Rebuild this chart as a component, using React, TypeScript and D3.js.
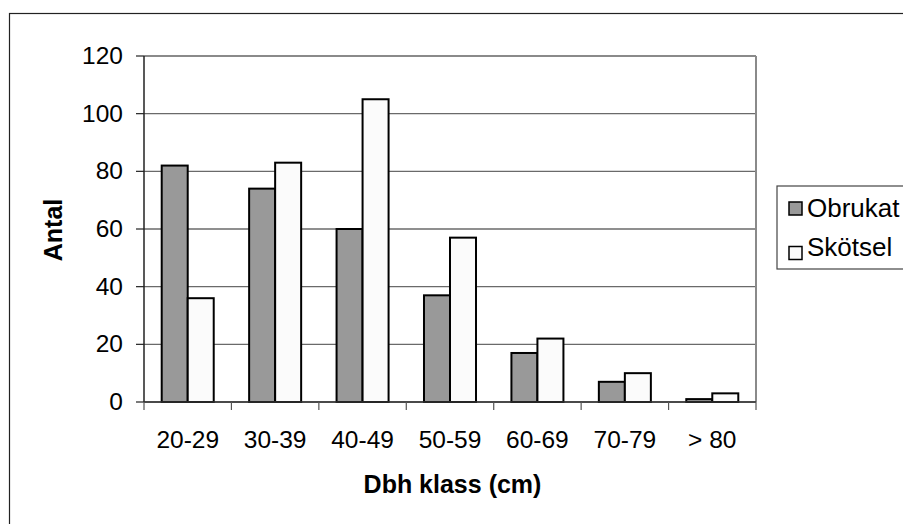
import React from "react";
import * as d3 from "d3";

const categories = ["20-29", "30-39", "40-49", "50-59", "60-69", "70-79", "> 80"];
const series = ["Obrukat", "Skötsel"];
const obrukat = [82, 74, 60, 37, 17, 7, 1];
const skotsel = [36, 83, 105, 57, 22, 10, 3];
const yTicks = [0, 20, 40, 60, 80, 100, 120];
const colors = ["#999999", "#fbfbfb"];

const W = 903;
const H = 524;
const left = 144;
const right = 756;
const top = 56;
const bottom = 402;
const font = "'Liberation Sans', Arial, sans-serif";

export default function App() {
  const x = d3.scaleBand<string>().domain(categories).range([left, right]).padding(0);
  const xs = d3
    .scaleBand<string>()
    .domain(series)
    .range([0, x.bandwidth()])
    .paddingInner(0)
    .paddingOuter(0.681);
  const y = d3.scaleLinear().domain([0, 120]).range([bottom, top]);
  const values = [obrukat, skotsel];

  return (
    <svg
      width={W}
      height={H}
      style={{ position: "absolute", left: 0, top: 0, background: "#fff" }}
    >
      <rect x={9.5} y={13.5} width={1000} height={1000} fill="#fff" stroke="#222" strokeWidth={1.2} />
      {yTicks.map((t) => (
        <line
          key={"g" + t}
          x1={left}
          x2={right}
          y1={y(t)}
          y2={y(t)}
          stroke={t === 120 ? "#8a8a8a" : "#6a6a6a"}
          strokeWidth={t === 120 ? 2 : 1.3}
        />
      ))}
      <line x1={right} x2={right} y1={top} y2={bottom} stroke="#8a8a8a" strokeWidth={2} />
      {categories.map((c, i) =>
        series.map((s, j) => {
          const v = values[j][i];
          const x0 = (x(c) as number) + (xs(s) as number);
          return (
            <rect
              key={c + s}
              x={x0}
              y={y(v)}
              width={xs.bandwidth()}
              height={y(0) - y(v)}
              fill={colors[j]}
              stroke="#000"
              strokeWidth={2}
            />
          );
        })
      )}
      <line x1={left} x2={left} y1={top} y2={bottom} stroke="#222" strokeWidth={1.5} />
      <line x1={left} x2={right} y1={bottom} y2={bottom} stroke="#333" strokeWidth={1.5} />
      {yTicks.map((t) => (
        <g key={"yt" + t}>
          <line x1={left - 8} x2={left} y1={y(t)} y2={y(t)} stroke="#222" strokeWidth={1.2} />
          <text x={123} y={y(t) + 8} textAnchor="end" fontFamily={font} fontSize={24.5} fill="#000">
            {t}
          </text>
        </g>
      ))}
      {[...categories.map((c) => x(c) as number), right].map((xv, i) => (
        <line key={"xt" + i} x1={xv} x2={xv} y1={bottom} y2={bottom + 8} stroke="#555" strokeWidth={1.2} />
      ))}
      {categories.map((c) => (
        <text
          key={"xl" + c}
          x={(x(c) as number) + x.bandwidth() / 2}
          y={447.5}
          textAnchor="middle"
          fontFamily={font}
          fontSize={24.5}
          fill="#000"
        >
          {c}
        </text>
      ))}
      <text
        transform="translate(62,230) rotate(-90)"
        textAnchor="middle"
        fontFamily={font}
        fontSize={25}
        fontWeight="bold"
        fill="#000"
      >
        Antal
      </text>
      <text x={452.5} y={493} textAnchor="middle" fontFamily={font} fontSize={25} fontWeight="bold" fill="#000">
        Dbh klass (cm)
      </text>
      <rect x={777} y={186} width={200} height={83} fill="#fff" stroke="#444" strokeWidth={1.2} />
      {series.map((s, j) => (
        <g key={"lg" + s}>
          <rect x={789} y={202 + j * 44.5} width={13} height={13} fill={colors[j]} stroke="#000" strokeWidth={1.5} />
          <text x={807} y={216.5 + j * 39.5} fontFamily={font} fontSize={26} fill="#000">
            {s}
          </text>
        </g>
      ))}
    </svg>
  );
}
